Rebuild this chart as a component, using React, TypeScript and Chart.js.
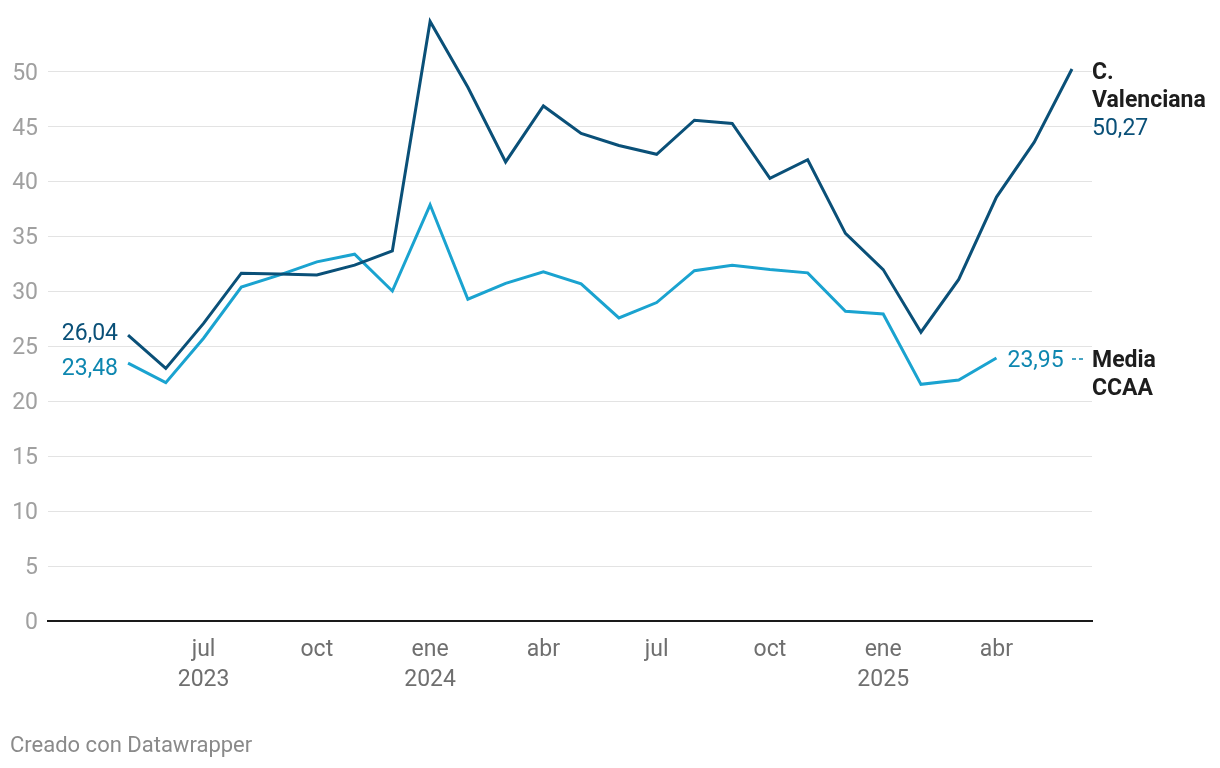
import React, { useEffect, useRef } from 'react';
import { Chart, registerables } from 'chart.js';

Chart.register(...registerables);

// Monthly data, May 2023 (index 0) to Jun 2025 (index 25)
const months = [
  'may 2023', 'jun 2023', 'jul 2023', 'ago 2023', 'sep 2023', 'oct 2023', 'nov 2023', 'dic 2023',
  'ene 2024', 'feb 2024', 'mar 2024', 'abr 2024', 'may 2024', 'jun 2024', 'jul 2024', 'ago 2024',
  'sep 2024', 'oct 2024', 'nov 2024', 'dic 2024', 'ene 2025', 'feb 2025', 'mar 2025', 'abr 2025',
  'may 2025', 'jun 2025',
];
const valenciana = [
  26.04, 23.0, 27.1, 31.67, 31.6, 31.5, 32.4, 33.7,
  54.6, 48.6, 41.8, 46.9, 44.4, 43.3, 42.5, 45.6,
  45.3, 40.3, 42.0, 35.3, 32.0, 26.3, 31.1, 38.6,
  43.6, 50.27,
];
const mediaCCAA = [
  23.48, 21.7, 25.75, 30.4, 31.5, 32.7, 33.4, 30.05,
  37.9, 29.3, 30.75, 31.8, 30.7, 27.6, 29.0, 31.9,
  32.4, 32.0, 31.7, 28.2, 27.96, 21.55, 21.95, 23.95,
];
const xTickIndex = [2, 5, 8, 11, 14, 17, 20, 23];
const xTickLabels: string[][] = [
  ['jul', '2023'], ['oct'], ['ene', '2024'], ['abr'], ['jul'], ['oct'], ['ene', '2025'], ['abr'],
];
const yTickValues = [0, 5, 10, 15, 20, 25, 30, 35, 40, 45, 50];

const DARK = '#0a5078';
const LIGHT = '#1aa3d0';
const LIGHT_TEXT = '#0e87b0';
const FONT = 'Roboto';
const FS = 23;
const TY = 3; // vertical text nudge

const fmt = (v: number) => v.toFixed(2).replace('.', ',');

const labelsPlugin = {
  id: 'dwLabels',
  afterDatasetsDraw(chart: any) {
    const { ctx, chartArea } = chart;
    const xs = chart.scales.x;
    const ys = chart.scales.y;
    ctx.save();
    // start labels
    const x0 = xs.getPixelForValue(0) - 10;
    ctx.textAlign = 'right';
    ctx.textBaseline = 'middle';
    ctx.font = `${FS}px ${FONT}`;
    ctx.fillStyle = DARK;
    ctx.fillText(fmt(valenciana[0]), x0, ys.getPixelForValue(valenciana[0]) - 4 + TY);
    ctx.fillStyle = LIGHT_TEXT;
    ctx.fillText(fmt(mediaCCAA[0]), x0, ys.getPixelForValue(mediaCCAA[0]) + 3 + TY);

    // end labels
    const xe = chartArea.right;
    ctx.textAlign = 'left';
    const yv = ys.getPixelForValue(valenciana[valenciana.length - 1]) + 1 + TY;
    ctx.font = `bold ${FS}px ${FONT}`;
    ctx.fillStyle = '#1d1d1d';
    ctx.fillText('C.', xe, yv);
    ctx.fillText('Valenciana', xe, yv + 28);
    ctx.font = `${FS}px ${FONT}`;
    ctx.fillStyle = DARK;
    ctx.fillText(fmt(valenciana[valenciana.length - 1]), xe, yv + 56);

    const lastM = mediaCCAA.length - 1;
    const ym = ys.getPixelForValue(mediaCCAA[lastM]);
    ctx.fillStyle = LIGHT_TEXT;
    ctx.fillText(fmt(mediaCCAA[lastM]), xs.getPixelForValue(lastM) + 11, ym + TY);
    ctx.strokeStyle = LIGHT_TEXT;
    ctx.lineWidth = 1.5;
    ctx.setLineDash([4, 3]);
    ctx.beginPath();
    ctx.moveTo(xe - 20, ym + 1);
    ctx.lineTo(xe - 8, ym + 1);
    ctx.stroke();
    ctx.setLineDash([]);
    ctx.font = `bold ${FS}px ${FONT}`;
    ctx.fillStyle = '#1d1d1d';
    ctx.fillText('Media', xe, ym + TY);
    ctx.fillText('CCAA', xe, ym + 28 + TY);

    // footer
    ctx.font = `22px ${FONT}`;
    ctx.fillStyle = '#8a8a8a';
    ctx.fillText('Creado con Datawrapper', 10, 746);
    ctx.restore();
  },
};

export default function App() {
  const ref = useRef<HTMLCanvasElement | null>(null);
  useEffect(() => {
    if (!ref.current) return;
    const chart = new Chart(ref.current, {
      type: 'line',
      data: {
        labels: months,
        datasets: [
          {
            label: 'C. Valenciana',
            data: valenciana.map((v, i) => ({ x: i, y: v })),
            borderColor: DARK,
            borderWidth: 3,
            pointRadius: 0,
            tension: 0,
            fill: false,
          },
          {
            label: 'Media CCAA',
            data: mediaCCAA.map((v, i) => ({ x: i, y: v })),
            borderColor: LIGHT,
            borderWidth: 3,
            pointRadius: 0,
            tension: 0,
            fill: false,
          },
        ],
      },
      options: {
        animation: false,
        responsive: false,
        layout: { padding: { left: 0, right: 128, top: 17, bottom: 0 } },
        plugins: {
          legend: { display: false },
          tooltip: { enabled: false },
        },
        scales: {
          x: {
            type: 'linear',
            min: -2.12,
            max: 25.53,
            grid: { display: false, drawTicks: false },
            border: { display: true, color: '#1a1a1a', width: 2 },
            afterBuildTicks: (scale: any) => {
              scale.ticks = xTickIndex.map((v) => ({ value: v }));
            },
            afterFit: (scale: any) => {
              scale.height = 147;
              scale.paddingLeft = 0;
              scale.paddingRight = 0;
            },
            ticks: {
              autoSkip: false,
              maxRotation: 0,
              padding: 14,
              color: '#6f6f6f',
              font: { family: FONT, size: FS, lineHeight: 1.3 },
              callback: (v: any) => {
                const idx = xTickIndex.indexOf(Number(v));
                return idx >= 0 ? xTickLabels[idx] : '';
              },
            },
          },
          y: {
            min: 0,
            max: 55,
            grid: { color: '#e3e3e3', lineWidth: 1, drawTicks: false },
            border: { display: false },
            afterBuildTicks: (scale: any) => {
              scale.ticks = yTickValues.map((v) => ({ value: v }));
            },
            afterFit: (scale: any) => {
              scale.width = 48;
              scale.paddingTop = 0;
              scale.paddingBottom = 0;
            },
            ticks: {
              padding: 10,
              labelOffset: 2,
              color: '#a0a0a0',
              font: { family: FONT, size: FS },
              callback: (v: any) => String(v),
            },
          },
        },
      },
      plugins: [labelsPlugin],
    } as any);
    return () => chart.destroy();
  }, []);
  return (
    <div style={{ position: 'fixed', left: 0, top: 0, width: 1220, height: 768, background: '#fff' }}>
      <canvas ref={ref} width={1220} height={768} style={{ display: 'block' }} />
    </div>
  );
}
